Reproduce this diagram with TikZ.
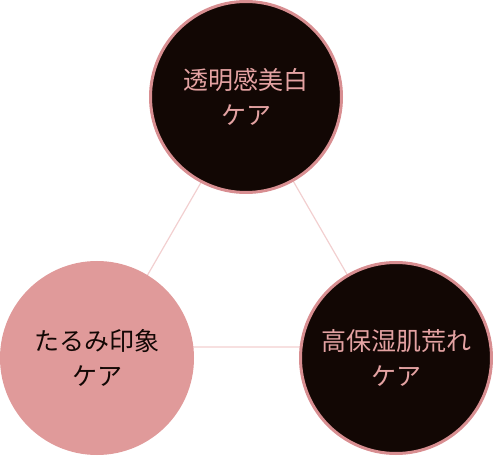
\documentclass[tikz,border=0pt]{standalone}
\usepackage{fontspec}
\newfontfamily\jpfont{Noto Sans CJK JP}
\definecolor{darkfill}{HTML}{120704}
\definecolor{rosering}{HTML}{D88E91}
\definecolor{rosefill}{HTML}{E09A9A}
\definecolor{rosetext}{HTML}{E4A2A2}
\definecolor{roseline}{HTML}{F2CFD0}
\tikzset{
	carecircle/.style={circle, inner sep=0pt, align=center, font=\jpfont\fontsize{25}{35}\selectfont},
	darkcare/.style={carecircle, fill=darkfill, draw=rosering, line width=3pt, minimum size=191pt, text=rosetext},
	pinkcare/.style={carecircle, fill=rosefill, minimum size=194pt, text=darkfill},
	linkline/.style={draw=roseline, line width=1.2pt}
}
\begin{document}
\begin{tikzpicture}[x=1pt, y=-1pt]
		\useasboundingbox (0,0) rectangle (493,457);
		\coordinate (apexTop) at (247.5,102);
		\coordinate (apexLeft) at (106,347);
		\coordinate (apexRight) at (389,347);
		\draw[linkline] (apexTop) -- (apexLeft) -- (apexRight) -- cycle;
		\node[darkcare] (whitening) at (246,97) {透明感美白\\ケア};
		\node[pinkcare] (firming) at (97,358) {たるみ印象\\ケア};
		\node[darkcare] (moisture) at (396,358) {高保湿肌荒れ\\ケア};
	\end{tikzpicture}
\end{document}
